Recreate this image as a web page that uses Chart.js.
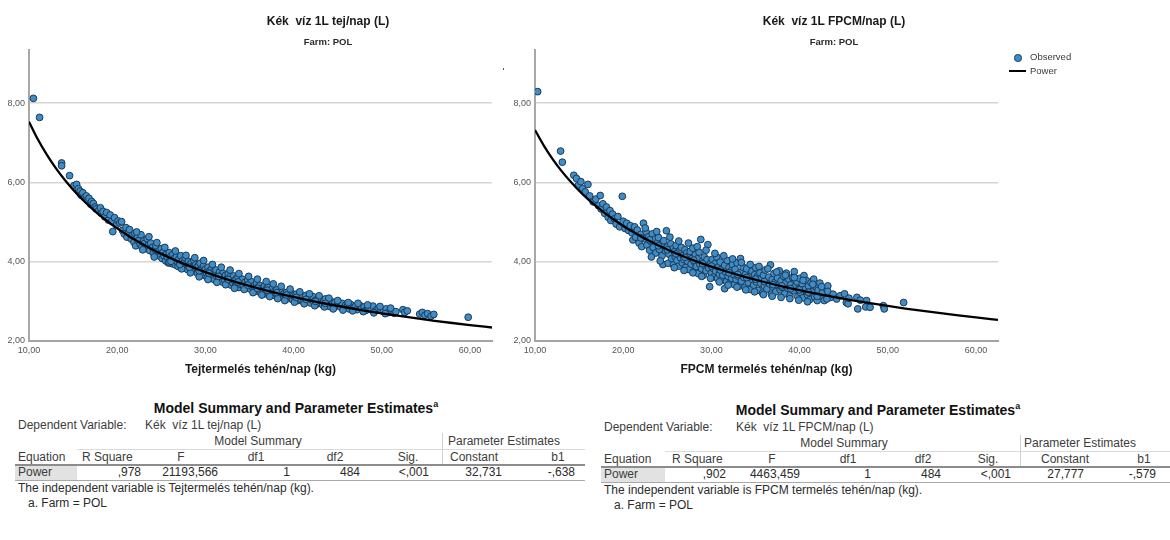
<!DOCTYPE html>
<html>
<head>
<meta charset="utf-8">
<script src="https://cdn.jsdelivr.net/npm/chart.js@4.4.1/dist/chart.umd.min.js"></script>
<style>
  html, body { margin: 0; padding: 0; background: #fff; }
  #wrap { position: relative; width: 1170px; height: 540px; overflow: hidden; background: #fff;
          font-family: "Liberation Sans", Arial, sans-serif; }
  canvas { position: absolute; top: 0; }
  .t { position: absolute; white-space: pre; line-height: 1.2; color: #2b2b2b; font-size: 12px; }
  .ttl { font-weight: bold; font-size: 12px; color: #1a1a1a; }
  .sub { font-weight: bold; font-size: 9.5px; color: #2a2a2a; }
  .leg { font-size: 9.5px; color: #3a3a3a; }
  .tabttl { font-weight: bold; font-size: 14px; color: #111; }
  .tabttl sup { font-size: 9px; }
  .hd { color: #3c3c3c; }
  .rule { position: absolute; }
</style>
</head>
<body>
<div id="wrap">
  <canvas id="cTej" width="500" height="385" style="left:0px"></canvas>
  <canvas id="cFpcm" width="670" height="385" style="left:500px"></canvas>
</div>
<script>
// Observed points: blue water per litre (L) against daily yield per cow (kg)
const tejObserved = [
  [10.5,8.12],[11.2,7.64],[13.7,6.49],[13.7,6.42],[14.6,6.17],[15.1,5.92],[15.4,5.95],[15.6,5.84],[15.8,5.78],[15.9,5.68],[16.1,5.74],
  [16.3,5.62],[16.5,5.66],[16.6,5.55],[16.8,5.60],[17.0,5.45],[17.1,5.52],[17.3,5.47],[17.5,5.38],[17.6,5.33],[17.9,5.29],[18.1,5.36],
  [18.2,5.22],[18.4,5.27],[18.6,5.13],[18.8,5.24],[19.0,5.05],[19.2,5.18],[19.4,5.02],[19.5,4.76],[19.7,5.11],[19.9,4.93],
  [20.1,5.03],[20.3,4.98],[20.5,5.01],[20.6,4.79],[20.8,4.70],[21.0,4.86],[21.1,4.62],[21.3,4.74],[21.4,4.81],[21.6,4.57],[21.7,4.66],
  [21.9,4.49],[22.0,4.72],[22.1,4.40],[22.3,4.61],[22.4,4.53],[22.6,4.44],[22.7,4.68],[22.8,4.37],[23.0,4.52],[23.1,4.46],[23.3,4.33],
  [23.4,4.58],[23.5,4.41],[23.7,4.28],[23.8,4.47],[24.0,4.36],[24.1,4.22],[24.3,4.31],[24.4,4.40],[24.6,4.19],[24.7,4.27],[24.9,4.13],[25.0,4.33],
  [25.1,4.08],[25.2,4.24],[25.3,4.15],[25.5,4.02],[25.6,4.19],[25.7,4.11],[25.8,3.97],[25.9,4.23],[26.0,4.06],[26.1,4.14],[26.2,3.95],
  [26.3,4.18],[26.4,4.03],[26.5,4.09],[26.6,3.92],[26.7,4.12],[26.8,4.00],[26.9,3.88],[27.0,4.07],[27.1,3.96],[27.2,4.15],[27.3,3.90],
  [27.4,4.02],[27.5,3.84],[27.6,3.98],[27.7,4.10],[27.8,3.87],[27.9,3.95],[28.0,3.80],[28.1,4.01],[28.2,3.91],[28.3,3.83],[28.4,3.97],
  [28.5,3.76],[28.6,3.88],[28.7,4.04],[28.8,3.79],[28.9,3.92],[29.0,3.85],[29.1,3.71],[29.2,3.90],[29.3,3.78],[29.4,3.96],[29.5,3.68],
  [29.6,3.83],[29.7,3.74],[29.8,3.89],[29.9,3.65],
  [30.0,3.81],[30.1,3.72],[30.2,3.60],[30.3,3.86],[30.4,3.69],[30.5,3.77],[30.6,3.58],[30.7,3.82],[30.8,3.66],[30.9,3.74],[31.0,3.55],
  [31.1,3.70],[31.2,3.79],[31.3,3.62],[31.4,3.51],[31.5,3.68],[31.6,3.74],[31.7,3.57],[31.8,3.64],[31.9,3.49],[32.0,3.71],[32.1,3.60],
  [32.2,3.53],[32.3,3.66],[32.4,3.44],[32.5,3.58],[32.6,3.69],[32.7,3.50],[32.8,3.62],[32.9,3.41],[33.0,3.55],[33.1,3.47],[33.2,3.64],
  [33.3,3.52],[33.4,3.38],[33.5,3.57],[33.6,3.46],[33.7,3.61],[33.8,3.35],[33.9,3.50],[34.0,3.43],[34.2,3.56],[34.3,3.39],[34.5,3.48],
  [34.6,3.33],[34.7,3.42],[34.8,3.54],[34.9,3.36],
  [35.0,3.44],[35.1,3.31],[35.2,3.50],[35.3,3.37],[35.5,3.28],[35.6,3.41],[35.7,3.33],[35.8,3.46],[35.9,3.25],[36.0,3.36],[36.1,3.29],
  [36.2,3.40],[36.3,3.22],[36.5,3.34],[36.6,3.26],[36.7,3.38],[36.8,3.19],[36.9,3.31],[37.0,3.24],[37.1,3.35],[37.2,3.17],[37.4,3.28],
  [37.5,3.21],[37.6,3.32],[37.8,3.15],[37.9,3.26],[38.0,3.20],[38.1,3.29],[38.3,3.12],[38.4,3.23],[38.5,3.17],[38.7,3.25],[38.8,3.09],
  [38.9,3.19],[39.1,3.14],[39.2,3.22],[39.4,3.07],[39.5,3.17],[39.7,3.11],[39.8,3.20],[39.9,3.04],
  [40.0,3.14],[40.2,3.08],[40.3,3.18],[40.5,3.02],[40.6,3.11],[40.8,3.05],[41.0,3.13],[41.1,2.99],[41.3,3.07],[41.4,3.15],[41.6,3.01],
  [41.7,3.09],[41.9,2.96],[42.0,3.05],[42.2,3.12],[42.3,2.98],[42.5,3.03],[42.6,2.93],[42.8,3.07],[43.0,2.97],[43.1,3.04],[43.3,2.91],
  [43.4,2.99],[43.6,3.06],[43.8,2.90],[43.9,2.96],[44.1,2.87],[44.2,3.01],[44.4,2.93],[44.6,2.85],[44.7,2.97],[44.9,2.89],
  [45.1,2.93],[45.3,2.86],[45.5,2.95],[45.7,2.83],[45.9,2.90],[46.1,2.88],[46.3,2.81],[46.5,2.92],[46.8,2.84],[47.0,2.87],[47.2,2.79],
  [47.5,2.90],[47.7,2.82],[48.0,2.86],[48.2,2.77],[48.5,2.84],[48.8,2.80],[49.0,2.88],[49.3,2.76],[49.6,2.82],[49.9,2.79],[50.2,2.74],
  [50.5,2.81],[50.8,2.72],[51.1,2.77],[51.4,2.70],[51.6,2.74],
  [52.4,2.79],[52.6,2.72],[52.9,2.76],[54.3,2.68],[54.6,2.72],[54.9,2.65],[55.2,2.69],[55.6,2.63],[55.9,2.67],[59.8,2.60],
  [22.2,4.75],[22.9,4.30],[23.6,4.63],[24.2,4.12],[24.5,4.48],[25.4,4.36],[25.9,3.99],[26.6,4.27],[27.3,3.82],[27.8,4.16],[28.3,3.72],
  [28.8,4.10],[29.3,3.62],[29.8,4.03],[30.3,3.55],[30.8,3.93],[31.3,3.48],[31.8,3.86],[32.3,3.42],[32.8,3.79],[33.3,3.33],[33.8,3.70],
  [34.4,3.30],[34.9,3.63],[35.4,3.22],[35.9,3.56],[36.4,3.16],[36.9,3.50],[37.3,3.12],[37.7,3.44],[38.2,3.07],[38.6,3.38],[39.0,3.02],
  [39.6,3.31],[40.1,2.98],[40.7,3.24],[41.2,2.94],[41.8,3.19],[42.4,2.89],[42.9,3.14],[43.5,2.86],[44.0,3.08],[44.5,2.81],[45.0,3.02],
  [45.6,2.78],[46.2,2.97],[46.7,2.76],[47.3,2.95],[47.9,2.74],[48.4,2.91],[49.1,2.71],[49.8,2.87],[50.4,2.69],[51.0,2.83],
  [26.1,4.01],[27.1,3.93],[28.2,3.86],[29.3,3.77],[30.4,3.71],[31.5,3.63],[32.6,3.55],[33.7,3.49],[34.8,3.41],[35.9,3.33],[37.0,3.28],
  [38.1,3.22],[39.2,3.16],[40.3,3.10],[41.4,3.05],[42.5,3.00],[43.6,2.95]
];

const fpcmObserved = [
  [10.3,8.29],[12.9,6.79],[13.1,6.51],[14.4,6.18],[14.7,6.10],[14.9,5.92],[15.2,6.02],[15.4,5.84],[15.7,5.76],[16.0,5.95],[16.2,5.66],
  [16.6,5.51],[16.9,5.58],
  [17.2,5.41],[17.4,5.67],[17.5,5.33],[17.7,5.46],[17.9,5.22],[18.1,5.38],[18.3,5.12],[18.5,5.29],[18.6,5.04],[18.8,5.20],[19.0,5.08],
  [19.2,4.95],[19.4,5.14],[19.6,4.88],[19.9,5.65],[20.0,5.02],[20.2,4.84],[20.4,4.97],[20.6,4.79],[20.8,4.91],
  [21.0,4.73],[21.1,4.55],[21.3,4.88],[21.4,4.62],[21.6,4.80],[21.8,4.47],[22.0,4.69],[22.1,4.38],[22.3,4.97],[22.4,4.58],[22.6,4.75],
  [22.7,4.42],[22.9,4.63],[23.0,4.29],[23.1,4.52],[23.3,4.70],[23.4,4.36],[23.6,4.57],[23.7,4.22],[23.9,4.48],[24.0,4.61],[24.1,4.31],
  [24.3,4.44],[24.4,4.15],[24.5,3.93],[24.6,4.53],[24.8,4.27],[24.9,4.78],[25.0,4.37],[25.1,3.96],[25.2,4.19],[25.4,4.45],[25.5,4.08],
  [25.6,4.32],[25.7,3.92],[25.8,4.25],[25.9,4.12],[26.0,4.41],[26.1,4.03],[26.2,4.19],[26.3,3.89],[26.4,4.28],[26.5,4.10],[26.6,4.36],
  [26.7,3.97],[26.8,4.16],[26.9,4.05],[27.0,4.30],[27.1,3.86],[27.2,4.22],[27.3,4.01],[27.4,4.13],[27.5,3.80],[27.6,4.26],[27.7,3.94],
  [27.8,4.08],[27.9,4.34],[28.0,3.75],[28.1,3.99],[28.2,4.18],[28.3,3.88],[28.4,4.07],[28.5,3.70],[28.6,4.24],[28.7,3.93],[28.8,4.56],
  [28.9,3.82],[29.0,4.02],[29.1,3.66],[29.2,4.12],[29.3,3.90],[29.4,3.77],[29.5,4.05],[29.6,4.43],[29.7,3.84],[29.8,3.37],[29.9,3.96],
  [30.0,3.72],[30.1,4.06],[30.2,3.83],[30.3,3.62],[30.4,3.95],[30.5,3.76],[30.6,4.12],[30.7,3.58],[30.8,3.87],[30.9,3.69],[31.0,3.99],
  [31.1,3.54],[31.2,3.81],[31.3,3.66],[31.5,3.32],[31.5,3.91],[31.6,3.74],[31.7,3.50],[31.8,4.03],[31.9,3.63],[32.0,3.85],[32.1,3.46],
  [32.2,3.77],[32.3,3.58],[32.4,3.93],[32.5,3.68],[32.6,3.42],[32.7,3.81],[32.8,3.55],[32.9,3.97],[33.0,3.64],[33.1,3.38],[33.3,4.08],
  [33.3,3.73],[33.4,3.51],[33.6,3.86],[33.7,3.60],[33.8,3.35],[33.9,3.69],[34.0,3.82],[34.2,3.47],[34.3,3.63],[34.4,3.30],[34.6,3.76],
  [34.7,3.54],[34.8,3.41],[34.9,3.67],
  [35.0,3.85],[35.1,3.49],[35.2,3.62],[35.3,3.28],[35.5,3.72],[35.6,3.45],[35.7,3.58],[35.8,3.21],[35.9,3.66],[36.0,3.39],[36.1,3.79],
  [36.2,3.52],[36.3,3.31],[36.5,3.61],[36.6,3.44],[36.7,3.92],[36.8,3.18],[36.9,3.55],[37.0,3.36],[37.1,3.70],[37.2,3.48],[37.3,3.24],
  [37.5,3.59],[37.6,3.41],[37.7,3.77],[37.8,3.29],[37.9,3.52],[38.0,3.35],[38.2,3.63],[38.3,3.19],[38.4,3.46],[38.5,3.71],[38.7,3.33],
  [38.8,3.55],[38.9,3.14],[39.0,3.42],[39.2,3.60],[39.3,3.27],[39.4,3.75],[39.5,3.38],[39.7,3.49],[39.8,3.12],[39.9,3.31],
  [40.0,3.58],[40.1,3.22],[40.3,3.44],[40.4,3.09],[40.5,3.65],[40.6,3.30],[40.8,3.52],[40.9,3.16],[41.0,3.39],[41.2,3.05],[41.3,3.47],
  [41.4,3.24],[41.6,3.56],[41.7,3.11],[41.9,3.35],[42.0,3.02],[42.1,3.28],[42.3,3.46],[42.4,3.14],[42.6,3.22],[42.8,3.02],[43.0,3.33],
  [43.2,3.39],[43.2,3.25],[43.5,3.10],[43.8,3.18],
  [44.2,3.06],[44.6,3.14],[45.1,3.19],[45.3,2.97],[45.5,2.94],[45.6,3.08],[46.5,3.10],[46.6,2.81],[46.9,3.03],[47.5,2.86],[47.6,3.02],
  [48.0,2.85],[49.5,2.89],[49.6,2.81],[51.8,2.97],
  [22.5,4.85],[23.2,4.12],[23.8,4.76],[24.2,4.02],[25.3,4.62],[25.8,3.85],[26.3,4.52],[26.9,3.78],[27.4,4.47],[27.9,3.72],[28.4,4.38],
  [28.9,3.63],[29.4,4.29],[29.9,3.58],[30.4,4.21],[30.9,3.49],[31.4,4.15],[31.9,3.41],[32.4,4.07],[32.9,3.36],[33.4,3.98],[33.9,3.29],
  [34.4,3.93],[34.9,3.24],[35.4,3.88],[35.9,3.17],[36.4,3.82],[36.9,3.13],[37.4,3.74],[37.9,3.10],[38.4,3.66],[38.9,3.07],[39.4,3.60],
  [39.9,3.03],[40.4,3.53],[40.9,2.99],[41.5,3.43],[42.0,3.13],[42.5,3.37],[43.1,3.06],
  [22.0,4.60],[23.0,4.55],[24.0,4.40],[25.0,4.30],[26.0,4.20],[27.0,4.11],[28.0,4.04],[29.0,3.95],[30.0,3.89],[31.0,3.79],[32.0,3.72],
  [33.0,3.68],[34.0,3.60],[35.0,3.56],[36.0,3.50],[37.0,3.42],[38.0,3.39],[39.0,3.32],[40.0,3.29],[41.0,3.23]
];

// Power model curves (Constant 32,731 / b1 -,638 and Constant 27,777 / b1 -,579)
const curveX = [10,11,12,13,14,15,16,17,18,19,20,21,22,23,24,25,26,27,28,29,30,32,34,36,38,40,42,44,46,48,50,52,54,56,58,60,62.5];
const tejCurveY = [7.532,7.088,6.705,6.372,6.078,5.816,5.582,5.370,5.177,5.002,4.840,4.692,4.555,4.428,4.309,4.198,4.094,3.997,3.906,3.819,
  3.737,3.587,3.451,3.327,3.214,3.111,3.015,2.927,2.845,2.769,2.698,2.631,2.568,2.510,2.454,2.402,2.340];
const fpcmCurveY = [7.323,6.930,6.589,6.291,6.027,5.791,5.579,5.387,5.211,5.051,4.903,4.766,4.639,4.521,4.411,4.308,4.211,4.120,4.034,3.953,
  3.876,3.734,3.605,3.488,3.380,3.282,3.190,3.106,3.026,2.953,2.884,2.819,2.758,2.701,2.646,2.595,2.534];

const xTicks = [10, 20, 30, 40, 50, 60];
const yTicks = [2, 4, 6, 8];

// Model summary tables
const tableHeaders = ['Equation', 'R Square', 'F', 'df1', 'df2', 'Sig.', 'Constant', 'b1'];
const tejRow  = ['Power', ',978', '21193,566', '1', '484', '<,001', '32,731', '-,638'];
const fpcmRow = ['Power', ',902', '4463,459',  '1', '484', '<,001', '27,777', '-,579'];

const FONT = '"Liberation Sans", Arial, sans-serif';
const fmt = v => Number(v).toFixed(2).replace('.', ',');

function scatterChart(id, points, curveY, yAxisWidth, rightPad, axisTitle) {
  const ctx = document.getElementById(id).getContext('2d');
  return new Chart(ctx, {
    type: 'scatter',
    data: {
      datasets: [
        {
          type: 'line', label: 'Power',
          data: curveX.map((x, i) => ({ x: x, y: curveY[i] })),
          borderColor: '#000', borderWidth: 2.3, pointRadius: 0, fill: false,
          cubicInterpolationMode: 'monotone', order: 0
        },
        {
          label: 'Observed',
          data: points.map(p => ({ x: p[0], y: p[1] })),
          backgroundColor: '#3f8cc6', borderColor: '#1c3a56', borderWidth: 1,
          pointRadius: 3.4, order: 1
        }
      ]
    },
    options: {
      responsive: false, animation: false, events: [],
      layout: { padding: { left: 0, right: rightPad, top: 50, bottom: 0 } },
      plugins: { legend: { display: false }, tooltip: { enabled: false } },
      scales: {
        x: {
          type: 'linear', min: 10, max: 62.5,
          afterBuildTicks: s => { s.ticks = xTicks.map(v => ({ value: v })); },
          afterFit: s => { s.height = 44; },
          grid: { display: false, drawTicks: false },
          border: { display: true, color: '#a3a3a3', width: 2 },
          ticks: { padding: 4, autoSkip: false, maxRotation: 0, color: '#555',
                   font: { family: FONT, size: 9 }, callback: fmt },
          title: { display: true, text: axisTitle, color: '#1a1a1a',
                   font: { family: FONT, size: 12, weight: 'bold' }, padding: { top: 0, bottom: 8 } }
        },
        y: {
          type: 'linear', min: 2, max: 9.34,
          afterBuildTicks: s => { s.ticks = yTicks.map(v => ({ value: v })); },
          afterFit: s => { s.width = yAxisWidth; },
          grid: { color: '#d6d6d6', lineWidth: 1.5, drawTicks: false },
          border: { display: true, color: '#a8a8a8', width: 2 },
          ticks: { padding: 4, color: '#555', font: { family: FONT, size: 9 }, callback: fmt }
        }
      }
    }
  });
}

scatterChart('cTej', tejObserved, tejCurveY, 29, 8, 'Tejtermelés tehén/nap (kg)');
scatterChart('cFpcm', fpcmObserved, fpcmCurveY, 35, 172, 'FPCM termelés tehén/nap (kg)');

// ---- text overlays ----
const wrap = document.getElementById('wrap');
function put(txt, x, y, align, cls, html) {
  const d = document.createElement('div');
  d.className = 't ' + (cls || '');
  if (html) d.innerHTML = txt; else d.textContent = txt;
  d.style.left = x + 'px';
  d.style.top = y + 'px';
  const tx = align === 'c' ? '-50%' : (align === 'r' ? '-100%' : '0');
  d.style.transform = 'translate(' + tx + ',-50%)';
  wrap.appendChild(d);
  return d;
}
function rule(x, y, w, h, color) {
  const d = document.createElement('div');
  d.className = 'rule';
  d.style.left = x + 'px'; d.style.top = y + 'px';
  d.style.width = w + 'px'; d.style.height = h + 'px';
  d.style.background = color;
  wrap.appendChild(d);
}

// chart titles
put('Kék  víz 1L tej/nap (L)', 328, 21, 'c', 'ttl');
put('Farm: POL', 328, 42, 'c', 'sub');
put('Kék  víz 1L FPCM/nap (L)', 834, 21, 'c', 'ttl');
put('Farm: POL', 834, 42, 'c', 'sub');
rule(503, 68, 1, 2, '#555');

// legend
const dot = document.createElement('div');
dot.style.cssText = 'position:absolute;left:1014px;top:54px;width:5.5px;height:5.5px;border-radius:50%;background:#3f8cc6;border:1px solid #1c3a56;';
wrap.appendChild(dot);
rule(1009, 70, 17, 2, '#000');
put('Observed', 1030, 57, 'l', 'leg');
put('Power', 1030, 71, 'l', 'leg');

// model summary tables
function summaryTable(o) {
  const y = o.top;
  put('Model Summary and Parameter Estimates<sup>a</sup>', o.titleX, y, 'c', 'tabttl', true);
  put('Dependent Variable:', o.depX, y + 17, 'l', 'hd');
  put(o.dep, o.depValX, y + 17, 'l', 'hd');
  put('Model Summary', o.msX, y + 33, 'c', 'hd');
  put('Parameter Estimates', o.peX, y + 33, 'l', 'hd');
  rule(o.vline, y + 25, 1, 31, '#d0d0d0');
  rule(o.cellL + o.cellW, y + 41, o.right - o.cellL - o.cellW, 1, '#dadada');
  tableHeaders.forEach((h, i) => put(h, o.head[i][0], y + 49, o.head[i][1], 'hd'));
  rule(o.cellL, y + 57, o.cellW, 15, '#e2e2e2');
  rule(o.cellL, y + 56, o.right - o.cellL, 1.5, '#8c8c8c');
  rule(o.cellL, y + 72, o.right - o.cellL, 1, '#a9a9a9');
  o.row.forEach((v, i) => put(v, o.cell[i][0], y + 64, o.cell[i][1], i === 0 ? 'hd' : ''));
  put(o.note, o.depX, y + 80, 'l', '');
  put('a. Farm = POL', o.depX + 10, y + 95, 'l', '');
}

summaryTable({
  top: 408, titleX: 296, depX: 18, depValX: 145, dep: 'Kék  víz 1L tej/nap (L)',
  msX: 258, peX: 448, vline: 442, cellL: 15, cellW: 62, right: 585,
  head: [[18,'l'],[82,'l'],[181,'c'],[256,'c'],[335,'c'],[408,'c'],[450,'l'],[558,'c']],
  row: tejRow,
  cell: [[18,'l'],[141,'r'],[218,'r'],[290,'r'],[360,'r'],[429,'r'],[502,'r'],[575,'r']],
  note: 'The independent variable is Tejtermelés tehén/nap (kg).'
});
summaryTable({
  top: 410, titleX: 878, depX: 604, depValX: 736, dep: 'Kék  víz 1L FPCM/nap (L)',
  msX: 844, peX: 1024, vline: 1020, cellL: 601, cellW: 64, right: 1170,
  head: [[604,'l'],[672,'l'],[772,'c'],[848,'c'],[923,'c'],[988,'c'],[1041,'l'],[1144,'c']],
  row: fpcmRow,
  cell: [[604,'l'],[726,'r'],[800,'r'],[871,'r'],[941,'r'],[1011,'r'],[1084,'r'],[1156,'r']],
  note: 'The independent variable is FPCM termelés tehén/nap (kg).'
});
</script>
</body>
</html>
